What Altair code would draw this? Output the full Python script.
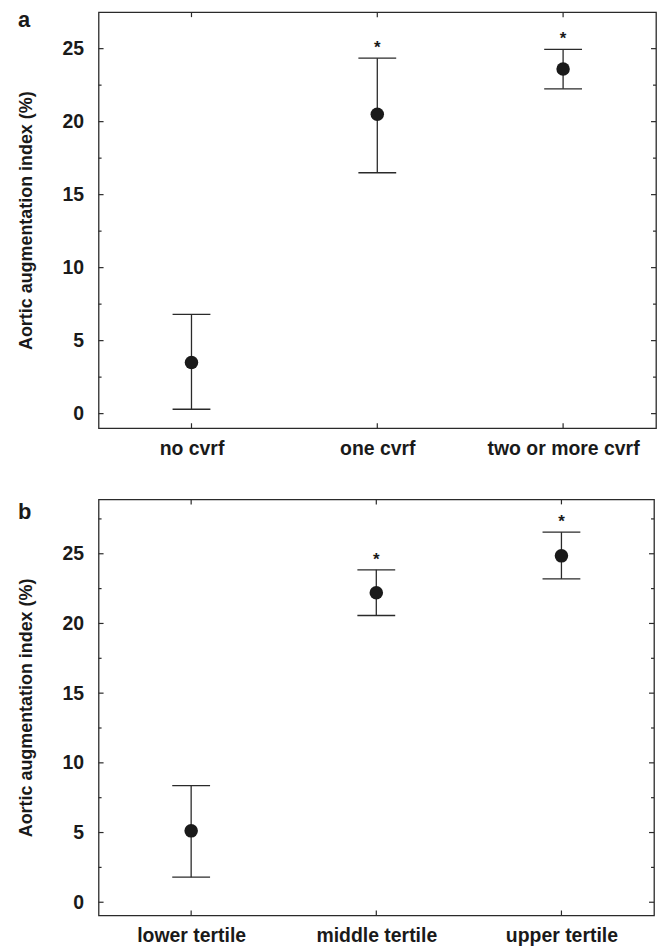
import altair as alt
import pandas as pd

FONT = "Liberation Sans"
INK = "#1a1a1a"
LINE = "#2a2a2a"

# Panel a
CATS_A = ["no cvrf", "one cvrf", "two or more cvrf"]
MEAN_A = [3.5, 20.5, 23.6]
LOW_A = [0.3, 16.5, 22.25]
HIGH_A = [6.8, 24.35, 24.95]
SIG_A = ["", "*", "*"]

# Panel b
CATS_B = ["lower tertile", "middle tertile", "upper tertile"]
MEAN_B = [5.12, 22.2, 24.85]
LOW_B = [1.8, 20.57, 23.2]
HIGH_B = [8.36, 23.85, 26.55]
SIG_B = ["", "*", "*"]

Y_MAJOR = [0, 5, 10, 15, 20, 25]
Y_MINOR_A = [2.5, 7.5, 12.5, 17.5, 22.5]
Y_MINOR_B = [2.5, 7.5, 12.5, 17.5, 22.5, 27.5]
Y_DOMAIN_A = [-1.0, 27.5]
Y_DOMAIN_B = [-0.95, 28.9]
Y_TITLE = "Aortic augmentation index (%)"


def panel(cats, mean, low, high, sig, ydom, minor, letter, letter_y, W, H):
    df = pd.DataFrame({"cat": cats, "mean": mean, "low": low, "high": high, "sig": sig})
    xs = alt.Scale(type="point", padding=0.5, domain=cats)
    ys = alt.Scale(domain=ydom, nice=False, zero=False)
    xaxis = alt.Axis(title=None, labelAngle=0, ticks=False, tickSize=0, domain=False,
                     grid=False, labelPadding=11, labelFontSize=19.5, labelFont=FONT,
                     labelFontWeight="bold", labelColor=INK)
    yaxis = alt.Axis(values=Y_MAJOR, title=Y_TITLE, ticks=False, tickSize=0, domain=False,
                     grid=False, labelPadding=15, titlePadding=27, labelFontSize=19.5,
                     labelFont=FONT, labelFontWeight="bold", labelColor=INK,
                     titleFontSize=18, titleFont=FONT, titleFontWeight="bold",
                     titleColor=INK)

    def X():
        return alt.X("cat:N", scale=xs, sort=cats, axis=xaxis)

    def Y(field):
        return alt.Y(field, scale=ys, axis=yaxis)

    base = alt.Chart(df)

    rules = base.mark_rule(color=LINE, strokeWidth=1.3).encode(
        x=X(), y=Y("low:Q"), y2="high:Q")
    cap_hi = base.mark_tick(orient="horizontal", size=38, thickness=1.3, color=LINE,
                            opacity=1).encode(x=X(), y=Y("high:Q"))
    cap_lo = base.mark_tick(orient="horizontal", size=38, thickness=1.3, color=LINE,
                            opacity=1).encode(x=X(), y=Y("low:Q"))
    pts = base.mark_circle(size=184, color=INK, opacity=1).encode(x=X(), y=Y("mean:Q"))
    stars = base.mark_text(fontSize=17, fontWeight="bold", font=FONT, color=INK,
                           baseline="middle", dy=-10).encode(
        x=X(), y=Y("high:Q"), text="sig:N")
    xt_top = base.mark_tick(orient="vertical", size=5, thickness=1.2, color=LINE,
                            opacity=1).encode(x=X(), y=alt.value(2.5))
    xt_bot = base.mark_tick(orient="vertical", size=5, thickness=1.2, color=LINE,
                            opacity=1).encode(x=X(), y=alt.value(H - 2.5))

    maj = alt.Chart(pd.DataFrame({"v": Y_MAJOR}))
    mnr = alt.Chart(pd.DataFrame({"v": minor}))
    yl = maj.mark_tick(orient="horizontal", size=5, thickness=1.2, color=LINE, opacity=1).encode(
        y=Y("v:Q"), x=alt.value(2.5))
    yr = maj.mark_tick(orient="horizontal", size=5, thickness=1.2, color=LINE, opacity=1).encode(
        y=Y("v:Q"), x=alt.value(W - 2.5))
    yml = mnr.mark_tick(orient="horizontal", size=3, thickness=1.2, color=LINE, opacity=1).encode(
        y=Y("v:Q"), x=alt.value(1.5))
    ymr = mnr.mark_tick(orient="horizontal", size=3, thickness=1.2, color=LINE, opacity=1).encode(
        y=Y("v:Q"), x=alt.value(W - 1.5))

    lab = alt.Chart(pd.DataFrame({"t": [letter]})).mark_text(
        align="left", baseline="alphabetic", fontSize=22, fontWeight="bold", font=FONT,
        color=INK).encode(text="t:N", x=alt.value(-81), y=alt.value(letter_y))

    return alt.layer(rules, cap_hi, cap_lo, pts, stars, xt_top, xt_bot, yl, yr, yml, ymr,
                     lab).properties(width=W, height=H)


pa = panel(CATS_A, MEAN_A, LOW_A, HIGH_A, SIG_A, Y_DOMAIN_A, Y_MINOR_A, "a", 15.3, 560, 418)
pb = panel(CATS_B, MEAN_B, LOW_B, HIGH_B, SIG_B, Y_DOMAIN_B, Y_MINOR_B, "b", 19.7, 558, 418)

chart = alt.vconcat(pa, pb, spacing=39.5).properties(
    padding={"left": 8, "top": -2, "right": 0, "bottom": 0},
    background="white",
).configure_view(stroke=LINE, strokeWidth=1.3)

chart.save("out.html", embed_options={"renderer": "svg", "actions": False})
